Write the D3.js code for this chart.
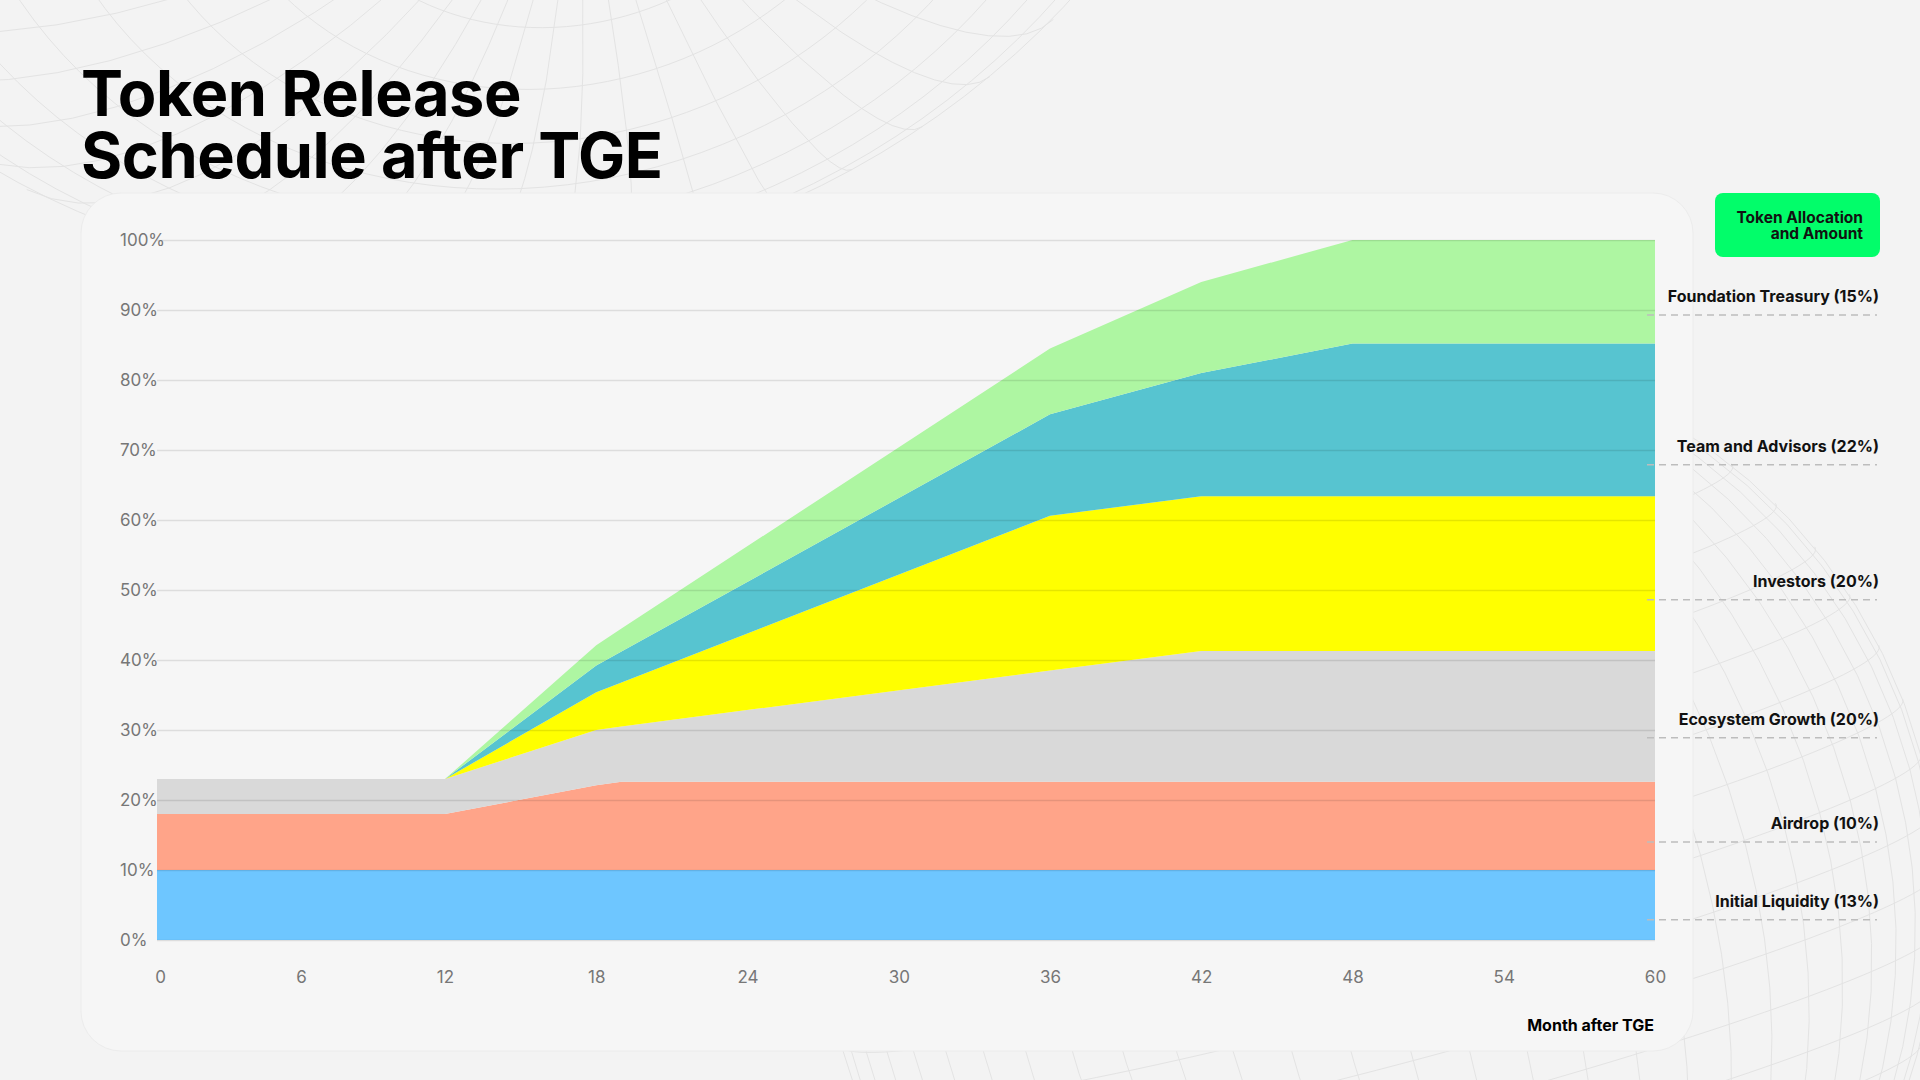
<!DOCTYPE html>
<html>
<head>
<meta charset="utf-8">
<script src="https://cdn.jsdelivr.net/npm/d3@7"></script>
<style>
  html, body { margin: 0; padding: 0; background: #f3f3f3; }
  svg { display: block; font-family: Inter, "Noto Sans", sans-serif; }
</style>
</head>
<body>
<svg id="chart"></svg>
<script>
const width = 1920;
const height = 1080;

// --- Data (percent of total supply unlocked, per allocation) ---
const months = [0, 12, 18, 19, 36, 42, 48, 60];
const seriesNames = ["Initial Liquidity", "Airdrop", "Ecosystem Growth", "Investors", "Team and Advisors", "Foundation Treasury"];
const initialLiquidity = [10, 10, 10, 10, 10, 10, 10, 10];
const airdrop          = [8, 8, 12.1, 12.6, 12.6, 12.6, 12.6, 12.6];
const ecosystemGrowth  = [5, 5, 7.9, 7.9, 15.9, 18.7, 18.7, 18.7];
const investors        = [0, 0, 5.4, 6.3, 22.1, 22.1, 22.1, 22.1];
const teamAdvisors     = [0, 0, 3.8, 4.4, 14.5, 17.6, 21.8, 21.8];
const foundation       = [0, 0, 2.9, 3.3, 9.4, 13.0, 14.8, 14.8];
const legendLabels = ["Initial Liquidity (13%)", "Airdrop (10%)", "Ecosystem Growth (20%)", "Investors (20%)", "Team and Advisors (22%)", "Foundation Treasury (15%)"];
const legendAnchors = [2.9, 14.0, 28.9, 48.6, 67.9, 89.3];
const xTicks = [0, 6, 12, 18, 24, 30, 36, 42, 48, 54, 60];
const yTicks = [0, 10, 20, 30, 40, 50, 60, 70, 80, 90, 100];
const colors = ["#6ec6ff", "#ffa489", "#d9d9d9", "#ffff00", "#57c4d0", "#aef6a2"];

const seriesValues = [initialLiquidity, airdrop, ecosystemGrowth, investors, teamAdvisors, foundation];
const table = months.map((m, i) => {
  const row = {month: m};
  seriesNames.forEach((s, k) => row[s] = seriesValues[k][i]);
  return row;
});

const svg = d3.select("#chart")
  .attr("width", width)
  .attr("height", height)
  .attr("viewBox", [0, 0, width, height]);

svg.append("rect").attr("width", width).attr("height", height).attr("fill", "#f3f3f3");

// --- Decorative mesh in background ---
const gMesh = svg.append("g").attr("fill", "none").attr("stroke", "#e3e3e3").attr("stroke-width", 1);
const grat = d3.geoGraticule().step([6, 6])();
const globeR = d3.geoOrthographic().scale(560).translate([1380, 900]).rotate([35, -5, 15]);
gMesh.append("path").attr("d", d3.geoPath(globeR)(grat));
const globeL = d3.geoOrthographic().scale(900).translate([420, -620]).rotate([-10, 60, 20]);
gMesh.append("path").attr("d", d3.geoPath(globeL)(grat));

// --- Card ---
svg.append("rect")
  .attr("x", 81).attr("y", 193)
  .attr("width", 1612).attr("height", 858)
  .attr("rx", 40)
  .attr("fill", "#f6f6f6")
  .attr("stroke", "#ececec");

// --- Title (two lines, tight leading as in the design) ---
svg.append("text")
  .attr("x", 81).attr("y", 116)
  .attr("font-size", 63)
  .attr("font-weight", 700)
  .attr("letter-spacing", -0.4)
  .attr("fill", "#000")
  .text("Token Release");
svg.append("text")
  .attr("x", 81).attr("y", 178)
  .attr("font-size", 63)
  .attr("font-weight", 700)
  .attr("letter-spacing", -0.4)
  .attr("fill", "#000")
  .text("Schedule after TGE");

// --- Scales ---
const x = d3.scaleLinear().domain([0, 12, 60]).range([157, 445, 1655]);
const y = d3.scaleLinear().domain([0, 100]).range([940, 240]);

// --- Stacked areas ---
const stack = d3.stack().keys(seriesNames);
const layers = stack(table);
const area = d3.area()
  .x(d => x(d.data.month))
  .y0(d => y(d[0]))
  .y1(d => y(d[1]));

svg.append("g").selectAll("path")
  .data(layers)
  .join("path")
  .attr("fill", (d, i) => colors[i])
  .attr("d", area);

// --- Gridlines & y labels ---
const yAxis = svg.append("g")
  .attr("transform", `translate(157,0)`)
  .call(d3.axisLeft(y).tickValues(yTicks).tickSize(-(1655 - 157)).tickFormat(d => d + "%"));
yAxis.select(".domain").remove();
yAxis.selectAll(".tick line")
  .attr("stroke", "#000")
  .attr("stroke-opacity", 0.1)
  .attr("stroke-width", 1.5);
yAxis.selectAll(".tick text")
  .attr("x", -37)
  .attr("text-anchor", "start")
  .attr("font-family", "Inter, sans-serif")
  .attr("font-size", 17)
  .attr("fill", "#777");

// --- x labels ---
const xAxis = svg.append("g")
  .attr("transform", `translate(0,940)`)
  .call(d3.axisBottom(x).tickValues(xTicks).tickSize(0).tickPadding(31).tickFormat(d3.format("d")));
xAxis.select(".domain").remove();
xAxis.selectAll(".tick text")
  .attr("font-family", "Inter, sans-serif")
  .attr("font-size", 17)
  .attr("fill", "#777");
xAxis.selectAll(".tick").filter(d => d === 0).select("text").attr("dx", 3);

svg.append("text")
  .attr("x", 1654)
  .attr("y", 1031)
  .attr("text-anchor", "end")
  .attr("font-size", 16)
  .attr("font-weight", 700)
  .attr("fill", "#000")
  .text("Month after TGE");

// --- Legend ---
svg.append("rect")
  .attr("x", 1715).attr("y", 193)
  .attr("width", 165).attr("height", 64)
  .attr("rx", 8)
  .attr("fill", "#02fd6a");
const legTitle = svg.append("text")
  .attr("text-anchor", "end")
  .attr("font-size", 15.5)
  .attr("font-weight", 700)
  .attr("fill", "#111");
legTitle.append("tspan").attr("x", 1863).attr("y", 223).text("Token Allocation");
legTitle.append("tspan").attr("x", 1863).attr("y", 239).text("and Amount");

const gLegend = svg.append("g");
legendLabels.forEach((label, i) => {
  const ly = y(legendAnchors[i]);
  gLegend.append("line")
    .attr("x1", 1647).attr("x2", 1877)
    .attr("y1", ly).attr("y2", ly)
    .attr("stroke", "#bdbdbd")
    .attr("stroke-width", 1.5)
    .attr("stroke-dasharray", "7 5");
  gLegend.append("text")
    .attr("x", 1879)
    .attr("y", ly - 13)
    .attr("text-anchor", "end")
    .attr("font-size", 16)
    .attr("font-weight", 700)
    .attr("fill", "#111")
    .text(label);
});
</script>
</body>
</html>
